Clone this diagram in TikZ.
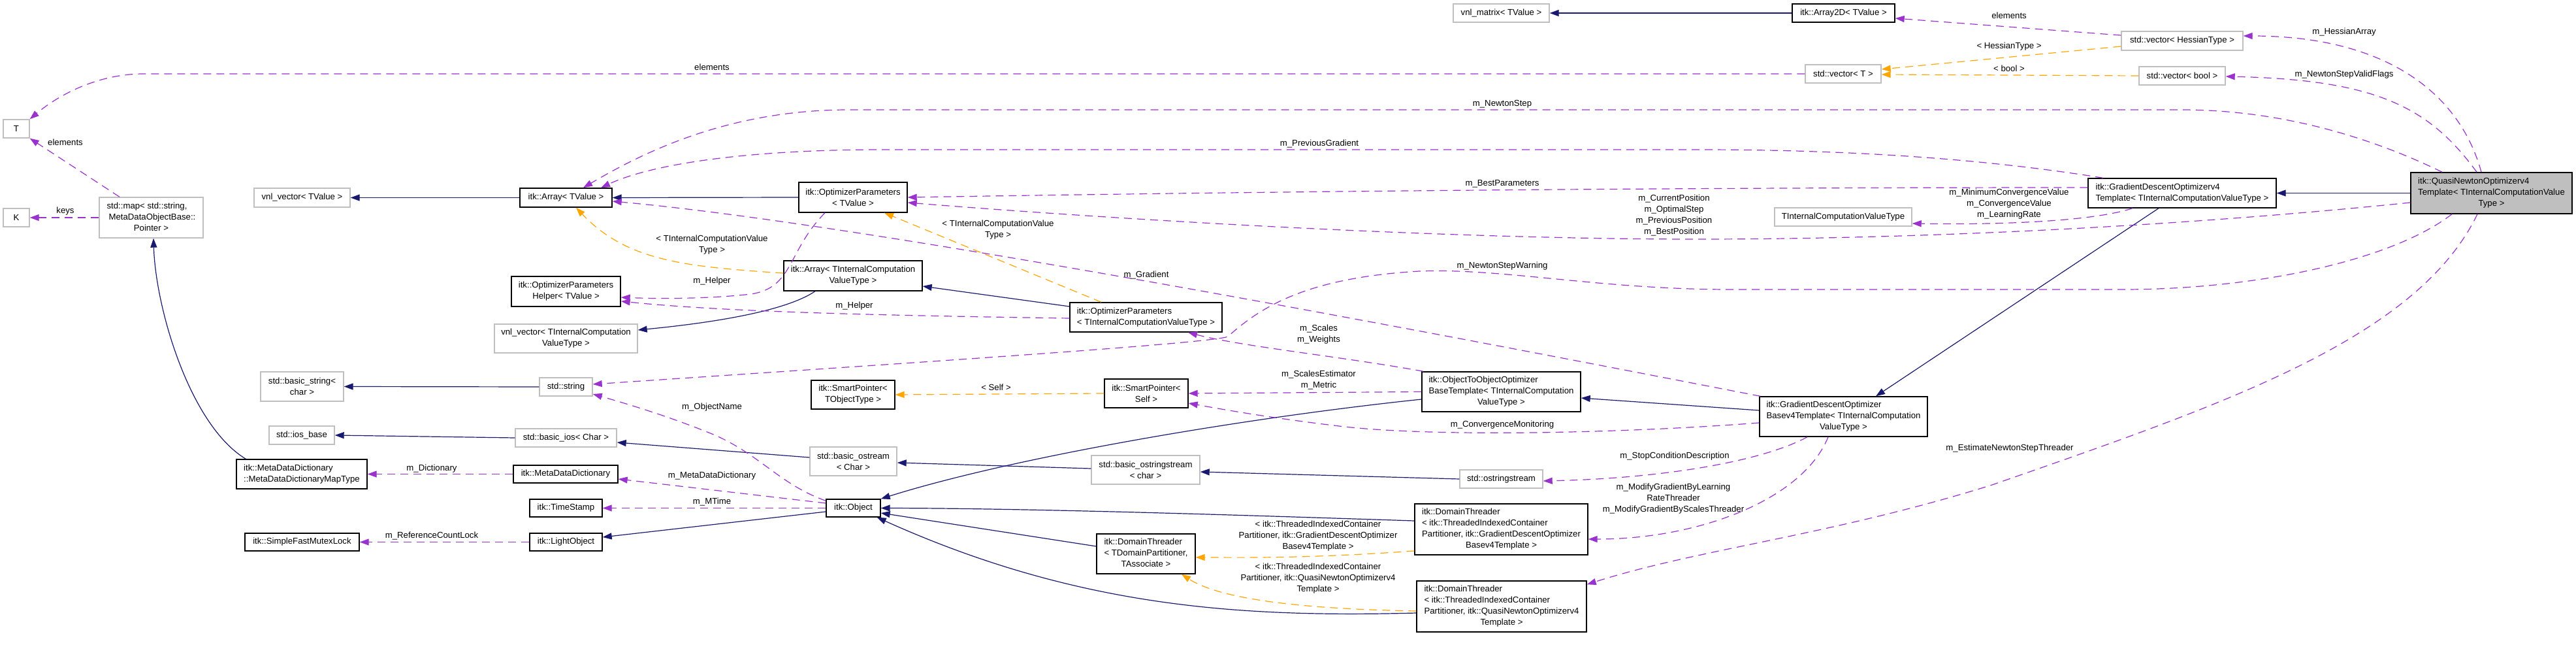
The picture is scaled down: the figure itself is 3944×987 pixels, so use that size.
\documentclass[tikz,border=0pt]{standalone}
\usepackage{fontspec}
\setmainfont{Liberation Sans}
\usetikzlibrary{arrows.meta}
\definecolor{navy}{HTML}{191970}
\definecolor{purp}{HTML}{9A32CD}
\definecolor{orng}{HTML}{FFA500}
\definecolor{grayb}{HTML}{BFBFBF}
\newcommand{\Lft}[1]{\begin{tabular}{@{}l@{}}#1\end{tabular}}
\newcommand{\Ctr}[1]{\multicolumn{1}{@{}c@{}}{#1}}
\begin{document}
\begin{tikzpicture}[x=1pt,y=-1pt,
  every node/.style={font=\fontsize{13.2pt}{17pt}\selectfont, inner sep=0pt, align=center, text=black},
  wh/.style 2 args={minimum width=#1pt, minimum height=#2pt},
  cls/.style={draw=black, line width=1.4pt, fill=white},
  ext/.style={draw=grayb, line width=1.4pt, fill=white},
  mainc/.style={draw=black, line width=1.4pt, fill=grayb},
  inh/.style={draw=navy, line width=1.2pt, -{Triangle[length=14pt,width=10pt]}},
  use/.style={draw=purp, line width=1.2pt, dash pattern=on 12pt off 8pt, -{Triangle[length=14pt,width=10pt]}},
  tpl/.style={draw=orng, line width=1.2pt, dash pattern=on 12pt off 8pt, -{Triangle[length=14pt,width=10pt]}}
]
\fill[white] (0,0) rectangle (3944,987);
\useasboundingbox (0,0) rectangle (3944,987);

% ---------- nodes ----------
\node[ext, wh={40}{28}] (T) at (25,197) {T};
\node[ext, wh={40}{28}] (K) at (25,333) {K};
\node[ext, wh={159}{62}] (map) at (231.5,333) {\Lft{std::map< std::string,\\\hspace{3pt}MetaDataObjectBase::\\ \Ctr{Pointer >}}};
\node[ext, wh={147}{29}] (vnlT) at (462.5,302.5) {vnl\_vector< TValue >};
\node[cls, wh={200}{45}] (mapType) at (462,725.5) {\Lft{itk::MetaDataDictionary\\::MetaDataDictionaryMapType}};
\node[ext, wh={127}{45}] (bstr) at (462.5,591.5) {std::basic\_string<\\char >};
\node[ext, wh={100}{28}] (iosb) at (462,666) {std::ios\_base};
\node[cls, wh={175}{27}] (mutex) at (462.5,829.5) {itk::SimpleFastMutexLock};
\node[cls, wh={141}{29}] (arrT) at (866.5,302.5) {itk::Array< TValue >};
\node[cls, wh={167}{46}] (helperT) at (866.5,446) {itk::OptimizerParameters\\Helper< TValue >};
\node[ext, wh={219}{44}] (vnlI) at (866.5,518) {vnl\_vector< TInternalComputation\\ValueType >};
\node[ext, wh={81}{28}] (string) at (866.5,592) {std::string};
\node[ext, wh={155}{28}] (bios) at (866.5,670) {std::basic\_ios< Char >};
\node[cls, wh={160}{27}] (mdd) at (866,725.5) {itk::MetaDataDictionary};
\node[cls, wh={111}{27}] (ts) at (866.5,777.5) {itk::TimeStamp};
\node[cls, wh={111}{27}] (light) at (866.5,829.5) {itk::LightObject};
\node[cls, wh={166}{46}] (optT) at (1306,302) {itk::OptimizerParameters\\< TValue >};
\node[cls, wh={212}{46}] (arrI) at (1306,422) {itk::Array< TInternalComputation\\ValueType >};
\node[cls, wh={128}{44}] (spO) at (1306,604) {itk::SmartPointer<\\TObjectType >};
\node[ext, wh={133}{44}] (bost) at (1306.5,706) {std::basic\_ostream\\< Char >};
\node[cls, wh={83}{27}] (obj) at (1306.5,777.5) {itk::Object};
\node[cls, wh={233}{45}] (optI) at (1754.5,485.5) {\Lft{itk::OptimizerParameters\\< TInternalComputationValueType >}};
\node[cls, wh={128}{44}] (spS) at (1755,602) {itk::SmartPointer<\\Self >};
\node[ext, wh={166}{44}] (bostr) at (1754,719) {std::basic\_ostringstream\\< char >};
\node[cls, wh={151}{61}] (dtT) at (1754.5,847.5) {\Lft{itk::DomainThreader\\< TDomainPartitioner,\\ \Ctr{TAssociate >}}};
\node[ext, wh={147}{28}] (vnlM) at (2298.5,20) {vnl\_matrix< TValue >};
\node[cls, wh={243}{61}] (oooT) at (2298.5,599.5) {\Lft{itk::ObjectToObjectOptimizer\\BaseTemplate< TInternalComputation\\ \Ctr{ValueType >}}};
\node[ext, wh={127}{28}] (ostr) at (2298.5,733) {std::ostringstream};
\node[cls, wh={265}{78}] (dtG) at (2298.5,810) {\Lft{itk::DomainThreader\\< itk::ThreadedIndexedContainer\\Partitioner, itk::GradientDescentOptimizer\\ \Ctr{Basev4Template >}}};
\node[cls, wh={260}{78}] (dtQ) at (2299,928) {\Lft{itk::DomainThreader\\< itk::ThreadedIndexedContainer\\Partitioner, itk::QuasiNewtonOptimizerv4\\ \Ctr{Template >}}};
\node[cls, wh={157}{28}] (arr2D) at (2822.5,20) {itk::Array2D< TValue >};
\node[ext, wh={116}{28}] (vecT) at (2822,113) {std::vector< T >};
\node[ext, wh={210}{28}] (ticvt) at (2822,332) {TInternalComputationValueType};
\node[cls, wh={257}{61}] (gdb) at (2822.5,637.5) {\Lft{itk::GradientDescentOptimizer\\Basev4Template< TInternalComputation\\ \Ctr{ValueType >}}};
\node[ext, wh={186}{29}] (vecH) at (3341,62.5) {std::vector< HessianType >};
\node[ext, wh={132}{28}] (vecB) at (3341,116) {std::vector< bool >};
\node[cls, wh={288}{45}] (gdv4) at (3341,295.5) {\Lft{itk::GradientDescentOptimizerv4\\Template< TInternalComputationValueType >}};
\node[mainc, wh={247}{63}] (main) at (3814.5,295.5) {\Lft{itk::QuasiNewtonOptimizerv4\\Template< TInternalComputationValue\\ \Ctr{Type >}}};

% ---------- inheritance (navy) ----------
\draw[inh] ([xshift=15pt]mapType.north west) .. controls (290,650) and (238,470) .. ([xshift=3.5pt]map.south);
\draw[inh] (arrT.west) -- (vnlT.east);
\draw[inh] (optT.west) -- (arrT.east);
\draw[inh] ([xshift=-58pt]arrI.south) .. controls (1200,478) and (1080,495) .. ([yshift=13pt]vnlI.east);
\draw[inh] (string.west) -- (bstr.east);
\draw[inh] (bios.west) -- (iosb.east);
\draw[inh] ([yshift=6pt]bost.west) -- ([yshift=-7pt]bios.east);
\draw[inh] ([yshift=2pt]bostr.west) -- ([yshift=-2pt]bost.east);
\draw[inh] (ostr.west) -- ([yshift=-3pt]bostr.east);
\draw[inh] ([yshift=-5.5pt]obj.west) -- ([yshift=7.5pt]light.east);
\draw[inh] ([yshift=16.5pt]optI.west) -- ([yshift=-16pt]arrI.east);
\draw[inh] ([yshift=-11.5pt]oooT.west) .. controls (1900,640) and (1550,700) .. (obj.north east);
\draw[inh] ([yshift=13pt]dtG.west) .. controls (1950,790) and (1600,778) .. (obj.east);
\draw[inh] ([yshift=11.5pt]dtT.west) -- ([yshift=-7.5pt]obj.east);
\draw[inh] ([yshift=-10pt]dtQ.west) .. controls (1900,945) and (1650,930) .. ([xshift=-6pt]obj.south east);
\draw[inh] ([yshift=9.5pt]gdb.west) -- ([yshift=-9.5pt]oooT.east);
\draw[inh] ([xshift=-36pt]gdv4.south) -- ([xshift=49.5pt]gdb.north);
\draw[inh] (main.west) -- (gdv4.east);
\draw[inh] (arr2D.west) -- (vnlM.east);

% ---------- usage (purple) ----------
\draw[use] (vecT.west) -- (220,113) .. controls (150,113) and (90,145) .. (T.north east);
\draw[use] ([xshift=-48.5pt]map.north) -- (T.south east);
\draw[use] (map.west) -- (K.east);
\draw[use] ([xshift=-75.5pt]main.north) .. controls (3640,215) and (3500,168) .. (3340,168) -- (1300,168) .. controls (1120,168) and (990,230) .. ([xshift=26.5pt]arrT.north);
\draw[use] ([xshift=-121pt]gdv4.north) .. controls (3050,245) and (2850,229) .. (2600,229) -- (1350,229) .. controls (1150,229) and (1000,250) .. ([xshift=53.5pt]arrT.north);
\draw[use] ([yshift=8.5pt]gdv4.west) .. controls (2600,287) and (2000,292) .. (optT.east);
\draw[use] ([yshift=-14.5pt]main.west) .. controls (3300,350) and (2900,366) .. (2600,366) .. controls (2200,366) and (1700,335) .. ([yshift=-8pt]optT.east);
\draw[use] ([xshift=-76pt]gdv4.south) .. controls (3200,340) and (3050,344) .. ([yshift=-10pt]ticvt.east);
\draw[use] ([xshift=-15.5pt]main.north) .. controls (3765,140) and (3650,55) .. ([yshift=7.5pt]vecH.east);
\draw[use] ([xshift=-22.5pt]main.north) .. controls (3720,165) and (3640,122) .. ([yshift=-1pt]vecB.east);
\draw[use] ([yshift=8.5pt]vecH.west) -- ([yshift=-8pt]arr2D.east);
\draw[use] ([xshift=-60.5pt]main.south) .. controls (3660,400) and (3450,443) .. (3250,443) -- (2650,443) .. controls (2450,443) and (2300,410) .. (2173,415) .. controls (2000,425) and (1930,470) .. (1880,515) .. controls (1860,525) and (1400,555) .. ([yshift=4pt]string.east);
\draw[use] ([yshift=-3pt]obj.north west) .. controls (1190,740) and (1160,690) .. (1080,660) .. controls (1020,636) and (960,618) .. ([yshift=-11pt]string.east);
\draw[use] ([yshift=7.5pt]obj.west) -- ([yshift=-7.5pt]mdd.east);
\draw[use] (obj.west) -- (ts.east);
\draw[use] (mdd.west) -- (mapType.east);
\draw[use] (light.west) -- (mutex.east);
\draw[use] ([xshift=-43pt]optT.south) .. controls (1205,385) and (1215,440) .. (1150,450) .. controls (1080,458) and (1000,457) .. ([yshift=-9pt]helperT.east);
\draw[use] ([yshift=-1.5pt]optI.west) .. controls (1300,482) and (1100,476) .. ([yshift=-15pt]helperT.east);
\draw[use] ([xshift=2pt]gdb.north west) .. controls (2300,530) and (1350,345) .. ([yshift=-5.5pt]arrT.east);
\draw[use] ([xshift=3pt]oooT.north west) .. controls (2050,545) and (1900,530) .. ([xshift=64.5pt]optI.south);
\draw[use] (oooT.west) -- (spS.east);
\draw[use] ([yshift=-9.5pt]gdb.west) .. controls (2500,662) and (2200,670) .. (2050,652) .. controls (1950,640) and (1880,628) .. ([yshift=-15pt]spS.east);
\draw[use] ([xshift=-55.5pt]gdb.south) .. controls (2700,705) and (2550,732) .. ([yshift=-3pt]ostr.east);
\draw[use] ([xshift=-23.5pt]gdb.south) .. controls (2760,765) and (2600,825) .. ([yshift=-15pt]dtG.east);
\draw[use] ([xshift=-21.5pt]main.south) .. controls (3700,520) and (3400,620) .. (3050,742) .. controls (2800,820) and (2600,840) .. ([yshift=-6pt]dtQ.north east);

% ---------- template (orange) ----------
\draw[tpl] ([yshift=4pt]arrI.west) .. controls (1050,408) and (960,400) .. ([xshift=15.5pt]arrT.south);
\draw[tpl] ([xshift=-68.5pt]optI.north) -- ([xshift=48pt]optT.south);
\draw[tpl] (spS.west) -- (spO.east);
\draw[tpl] ([yshift=-33pt]dtG.west) .. controls (2000,855) and (1900,853) .. ([yshift=-5.5pt]dtT.east);
\draw[tpl] ([yshift=-7pt]dtQ.west) .. controls (2000,932) and (1870,918) .. ([xshift=54.5pt]dtT.south);
\draw[tpl] ([yshift=-8.5pt]vecH.west) -- ([yshift=7pt]vecT.east);
\draw[tpl] (vecB.west) -- ([yshift=-1pt]vecT.east);

% ---------- labels ----------
\node (l1) at (1090,103) {elements};
\node (l2) at (100,218) {elements};
\node (l3) at (100,323) {keys};
\node (l4) at (2300,159) {m\_NewtonStep};
\node (l5) at (2020,220) {m\_PreviousGradient};
\node (l6) at (2300,281) {m\_BestParameters};
\node (l7) at (2563,330) {m\_CurrentPosition\\m\_OptimalStep\\m\_PreviousPosition\\m\_BestPosition};
\node (l8) at (3076,312) {m\_MinimumConvergenceValue\\m\_ConvergenceValue\\m\_LearningRate};
\node (l9) at (3589,49) {m\_HessianArray};
\node (l10) at (3589,114) {m\_NewtonStepValidFlags};
\node (l11) at (3076,24) {elements};
\node (l12) at (3076,71) {< HessianType >};
\node (l13) at (3076,105) {< bool >};
\node (l14) at (2300,407) {m\_NewtonStepWarning};
\node (l15) at (1090,623) {m\_ObjectName};
\node (l16) at (1090,728) {m\_MetaDataDictionary};
\node (l17) at (1090,768) {m\_MTime};
\node (l18) at (661,717) {m\_Dictionary};
\node (l19) at (661,820) {m\_ReferenceCountLock};
\node (l20) at (1090,430) {m\_Helper};
\node (l21) at (1308,468) {m\_Helper};
\node (l22) at (1755,421) {m\_Gradient};
\node (l23) at (2019,512) {m\_Scales\\m\_Weights};
\node (l24) at (2019,582) {m\_ScalesEstimator\\m\_Metric};
\node (l25) at (2300,650) {m\_ConvergenceMonitoring};
\node (l26) at (2564,698) {m\_StopConditionDescription};
\node (l27) at (2562,763) {m\_ModifyGradientByLearning\\RateThreader\\m\_ModifyGradientByScalesThreader};
\node (l28) at (3077,686) {m\_EstimateNewtonStepThreader};
\node (l29) at (1090,375) {< TInternalComputationValue\\Type >};
\node (l30) at (1528,352) {< TInternalComputationValue\\Type >};
\node (l31) at (1525,593) {< Self >};
\node (l32) at (2018,820) {< itk::ThreadedIndexedContainer\\Partitioner, itk::GradientDescentOptimizer\\Basev4Template >};
\node (l33) at (2018,885) {< itk::ThreadedIndexedContainer\\Partitioner, itk::QuasiNewtonOptimizerv4\\Template >};
\end{tikzpicture}
\end{document}
